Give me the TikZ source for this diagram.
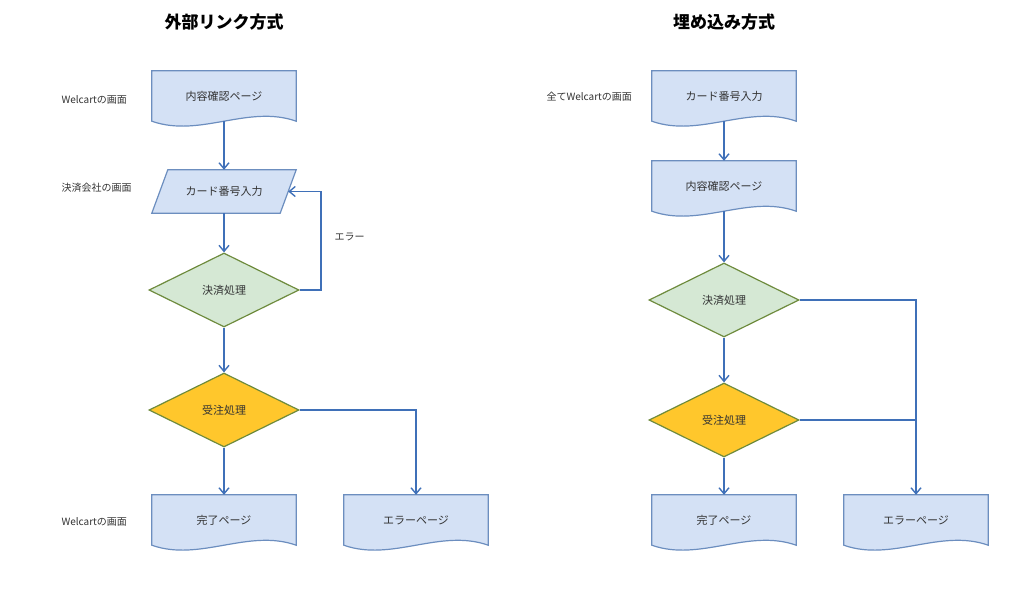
\documentclass[tikz,border=0pt]{standalone}
\usepackage{fontspec}
\setmainfont{Noto Sans CJK JP}
\usetikzlibrary{calc,arrows.meta,shapes.geometric,backgrounds}

\definecolor{pagefill}{HTML}{D4E1F5}
\definecolor{pageline}{HTML}{6C8EBF}
\definecolor{payfill}{HTML}{D5E8D4}
\definecolor{orderfill}{HTML}{FFC72C}
\definecolor{diamline}{HTML}{6E8B3D}
\definecolor{flowline}{HTML}{3F70B8}
\definecolor{txtgray}{HTML}{333333}

\begin{document}
\begin{tikzpicture}[x=1pt,y=-1pt,
    pagebox/.style={minimum width=144,minimum height=50,inner sep=0pt,font=\fontsize{11}{13}\selectfont,text=txtgray},
    cardbox/.style={minimum width=144,minimum height=43,inner sep=0pt,font=\fontsize{11}{13}\selectfont,text=txtgray},
    shapeline/.style={draw=pageline,fill=pagefill,line width=1.2},
    decide/.style={diamond,draw=diamline,line width=1.2,minimum width=150,minimum height=74,inner sep=0pt,
      font=\fontsize{11}{13}\selectfont,text=txtgray},
    flow/.style={draw=flowline,line width=1.4,-{Straight Barb[length=6pt,width=10pt]}},
    link/.style={draw=flowline,line width=1.4},
    side/.style={anchor=west,font=\fontsize{10}{12}\selectfont,text=txtgray},
    title/.style={font=\fontsize{17}{20}\selectfont\bfseries,text=black}]

  \useasboundingbox (0,0) rectangle (1024,589);

  %% Page shape with a wavy bottom edge
  \newcommand\pagedoc[3]{%
    \node[pagebox] (#1) at (#2) {#3};
    \begin{scope}[on background layer]
      \filldraw[shapeline]
        (#1.north west) -- (#1.north east) -- (#1.south east)
        .. controls ($(#1.south east)+(-48,-17)$) and ($(#1.south west)+(48,17)$) .. (#1.south west)
        -- cycle;
    \end{scope}}

  %% Slanted input shape
  \newcommand\inputdoc[3]{%
    \node[cardbox] (#1) at (#2) {#3};
    \begin{scope}[on background layer]
      \filldraw[shapeline]
        ($(#1.north west)+(16,0)$) -- (#1.north east) -- ($(#1.south east)+(-16,0)$)
        -- (#1.south west) -- cycle;
    \end{scope}}

  %%%% Left: external link %%%%
  \node[title] (ltitle) at (224,22) {外部リンク方式};

  \pagedoc{lpage}{224,96}{内容確認ページ}
  \inputdoc{lcard}{224,191.5}{カード番号入力}
  \node[decide,fill=payfill] (lpay) at (224,290) {決済処理};
  \node[decide,fill=orderfill] (lorder) at (224,410) {受注処理};
  \pagedoc{ldone}{224,520}{完了ページ}
  \pagedoc{lerror}{416,520}{エラーページ}

  %% Screen labels
  \node[side] (lside1) at (58,100) {Welcartの画面};
  \node[side] (lside2) at (58,188) {決済会社の画面};
  \node[side] (lside3) at (58,522) {Welcartの画面};

  \coordinate (lturn) at (321,237);
  \node[side] (lerrlbl) at (331,237) {エラー};

  \draw[flow] (lpage.south) -- (lcard.north);
  \draw[flow] (lcard.south) -- (lpay.north);
  \draw[flow] (lpay.south) -- (lorder.north);
  \draw[flow] (lpay.east) -| (lturn) |- ($(lcard.east)+(-8,0)$);
  \draw[flow] (lorder.south) -- (ldone.north);
  \draw[flow] (lorder.east) -| (lerror.north);

  %%%% Right: embedded %%%%
  \node[title] (rtitle) at (724,22) {埋め込み方式};

  \pagedoc{rcard}{724,96}{カード番号入力}
  \pagedoc{rpage}{724,186}{内容確認ページ}
  \node[decide,fill=payfill] (rpay) at (724,300) {決済処理};
  \node[decide,fill=orderfill] (rorder) at (724,420) {受注処理};
  \pagedoc{rdone}{724,520}{完了ページ}
  \pagedoc{rerror}{916,520}{エラーページ}

  \node[side] (rside1) at (543,97) {全てWelcartの画面};

  \draw[flow] (rcard.south) -- (rpage.north);
  \draw[flow] (rpage.south) -- (rpay.north);
  \draw[flow] (rpay.south) -- (rorder.north);
  \draw[flow] (rorder.south) -- (rdone.north);
  \draw[flow] (rpay.east) -| (rerror.north);
  \draw[link] (rorder.east) -- (rorder.east -| rerror.north);

\end{tikzpicture}
\end{document}
